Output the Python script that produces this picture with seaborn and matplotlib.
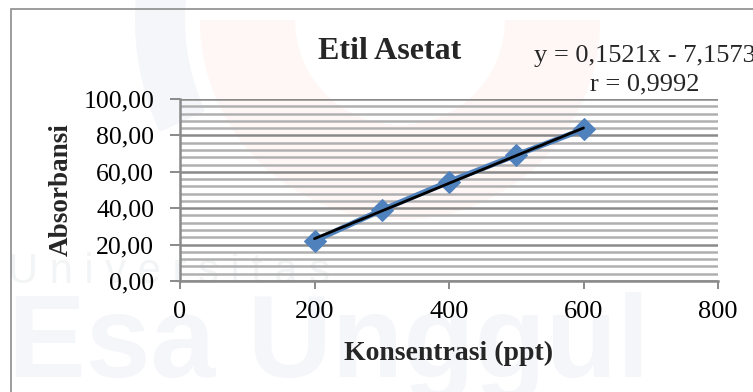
import numpy as np
import pandas as pd
import seaborn as sns
import matplotlib
matplotlib.use("Agg")
import matplotlib.pyplot as plt
from matplotlib.ticker import MultipleLocator, FuncFormatter
from matplotlib.patches import Rectangle, Wedge
from matplotlib.transforms import IdentityTransform

# Calibration data: ethyl acetate
konsentrasi = [200, 300, 400, 500, 600]          # ppt
absorbansi = [22.1, 39.0, 54.6, 69.2, 83.4]

# Linear regression reported for the series
slope = 0.1521
intercept = -7.1573
r_value = 0.9992

title = "Etil Asetat"
x_label = "Konsentrasi (ppt)"
y_label = "Absorbansi"
x_ticks = [0, 200, 400, 600, 800]
y_ticks = [0, 20, 40, 60, 80, 100]

df = pd.DataFrame({"x": konsentrasi, "y": absorbansi})

sns.set_theme(style="white")
plt.rcParams["font.family"] = ["Liberation Serif", "DejaVu Serif"]

W, H = 753, 392
fig = plt.figure(figsize=(W / 100, H / 100), dpi=100)
fig.patch.set_facecolor("white")


def px(x, y):
    """pixel position (from top-left) -> figure fraction"""
    return x / W, 1 - y / H


# faint university watermark behind the chart
wm_blue = (0.955, 0.965, 0.98)
wm_orange = (0.996, 0.97, 0.96)
ring = Wedge((400, H - 20), 200, 180, 360, width=95, facecolor=wm_orange,
             edgecolor="none", transform=IdentityTransform(), zorder=-20)
fig.add_artist(ring)
swoosh = Wedge((400, H - 20), 265, 150, 205, width=50, facecolor=wm_blue,
               edgecolor="none", transform=IdentityTransform(), zorder=-20)
fig.add_artist(swoosh)
fig.text(*px(8, 283), "U n i v e r s i t a s", fontsize=30, color=(0.95, 0.955, 0.96),
         family="Liberation Sans", ha="left", va="baseline", zorder=-10)
fig.text(*px(8, 377), "Esa Unggul", fontsize=84, fontweight="bold", color=wm_blue,
         family="Liberation Sans", ha="left", va="baseline", zorder=-10)

# chart frame (continues past the right and bottom edges)
frame_top = px(0, 9.3)[1]
fig.add_artist(Rectangle((10.5 / W, -0.5), 2.0, frame_top + 0.5,
                         transform=fig.transFigure, facecolor="none",
                         edgecolor="#8c8c8c", linewidth=1.2, zorder=-5))

left, right = px(180, 0)[0], px(718, 0)[0]
bottom, top = px(0, 281)[1], px(0, 99)[1]
ax = fig.add_axes([left, bottom, right - left, top - bottom])
ax.patch.set_alpha(0)

ax.set_xlim(x_ticks[0], x_ticks[-1])
ax.set_ylim(y_ticks[0], y_ticks[-1])
ax.set_xticks(x_ticks)
ax.set_yticks(y_ticks)
ax.yaxis.set_minor_locator(MultipleLocator(4))
ax.yaxis.set_major_formatter(FuncFormatter(lambda v, p: f"{v:.2f}".replace(".", ",")))
ax.xaxis.set_major_formatter(FuncFormatter(lambda v, p: f"{v:.0f}"))

ax.grid(which="minor", axis="y", color="#b0b0b0", linewidth=1.8, zorder=0)
ax.grid(which="major", axis="y", color="#8a8a8a", linewidth=1.8, zorder=0)
ax.grid(which="major", axis="x", visible=False)
ax.set_axisbelow(True)

for side in ("top", "right"):
    ax.spines[side].set_visible(False)
for side in ("left", "bottom"):
    ax.spines[side].set_color("#8a8a8a")
    ax.spines[side].set_linewidth(1.8)

ax.tick_params(axis="y", which="major", direction="out", length=7.5, width=1.4,
               color="#8a8a8a", pad=11, labelsize=18.5, labelcolor="black", left=True)
ax.tick_params(axis="y", which="minor", length=0)
ax.tick_params(axis="x", which="major", direction="out", length=5.5, width=1.4,
               color="#8a8a8a", pad=9, labelsize=19, labelcolor="black", bottom=True)

# data series
sns.lineplot(data=df, x="x", y="y", ax=ax, color="#4F81BD", linewidth=4,
             marker="D", markersize=11.5, markeredgecolor="#4F81BD",
             markerfacecolor="#4F81BD", zorder=3, legend=False)

# linear trendline over the data range
xt = np.array([min(konsentrasi), max(konsentrasi)])
ax.plot(xt, slope * xt + intercept, color="black", linewidth=2, zorder=4)

ax.set_xlabel("")
ax.set_ylabel("")

fig.text(*px(389.5, 59), title, fontsize=23, fontweight="bold",
         ha="center", va="baseline")
fig.text(*px(448.5, 360), x_label, fontsize=20, fontweight="bold",
         ha="center", va="baseline")
fig.text(*px(61, 190), y_label, fontsize=19.5, fontweight="bold",
         rotation=90, ha="center", va="center")

eq = f"y = {slope:.4f}x - {abs(intercept):.4f}".replace(".", ",")
fig.text(*px(645, 62), eq, fontsize=19, ha="center", va="baseline")
fig.text(*px(645, 90.5), f"r = {r_value:.4f}".replace(".", ","), fontsize=19,
         ha="center", va="baseline")

fig.savefig("out.png", dpi=100)
